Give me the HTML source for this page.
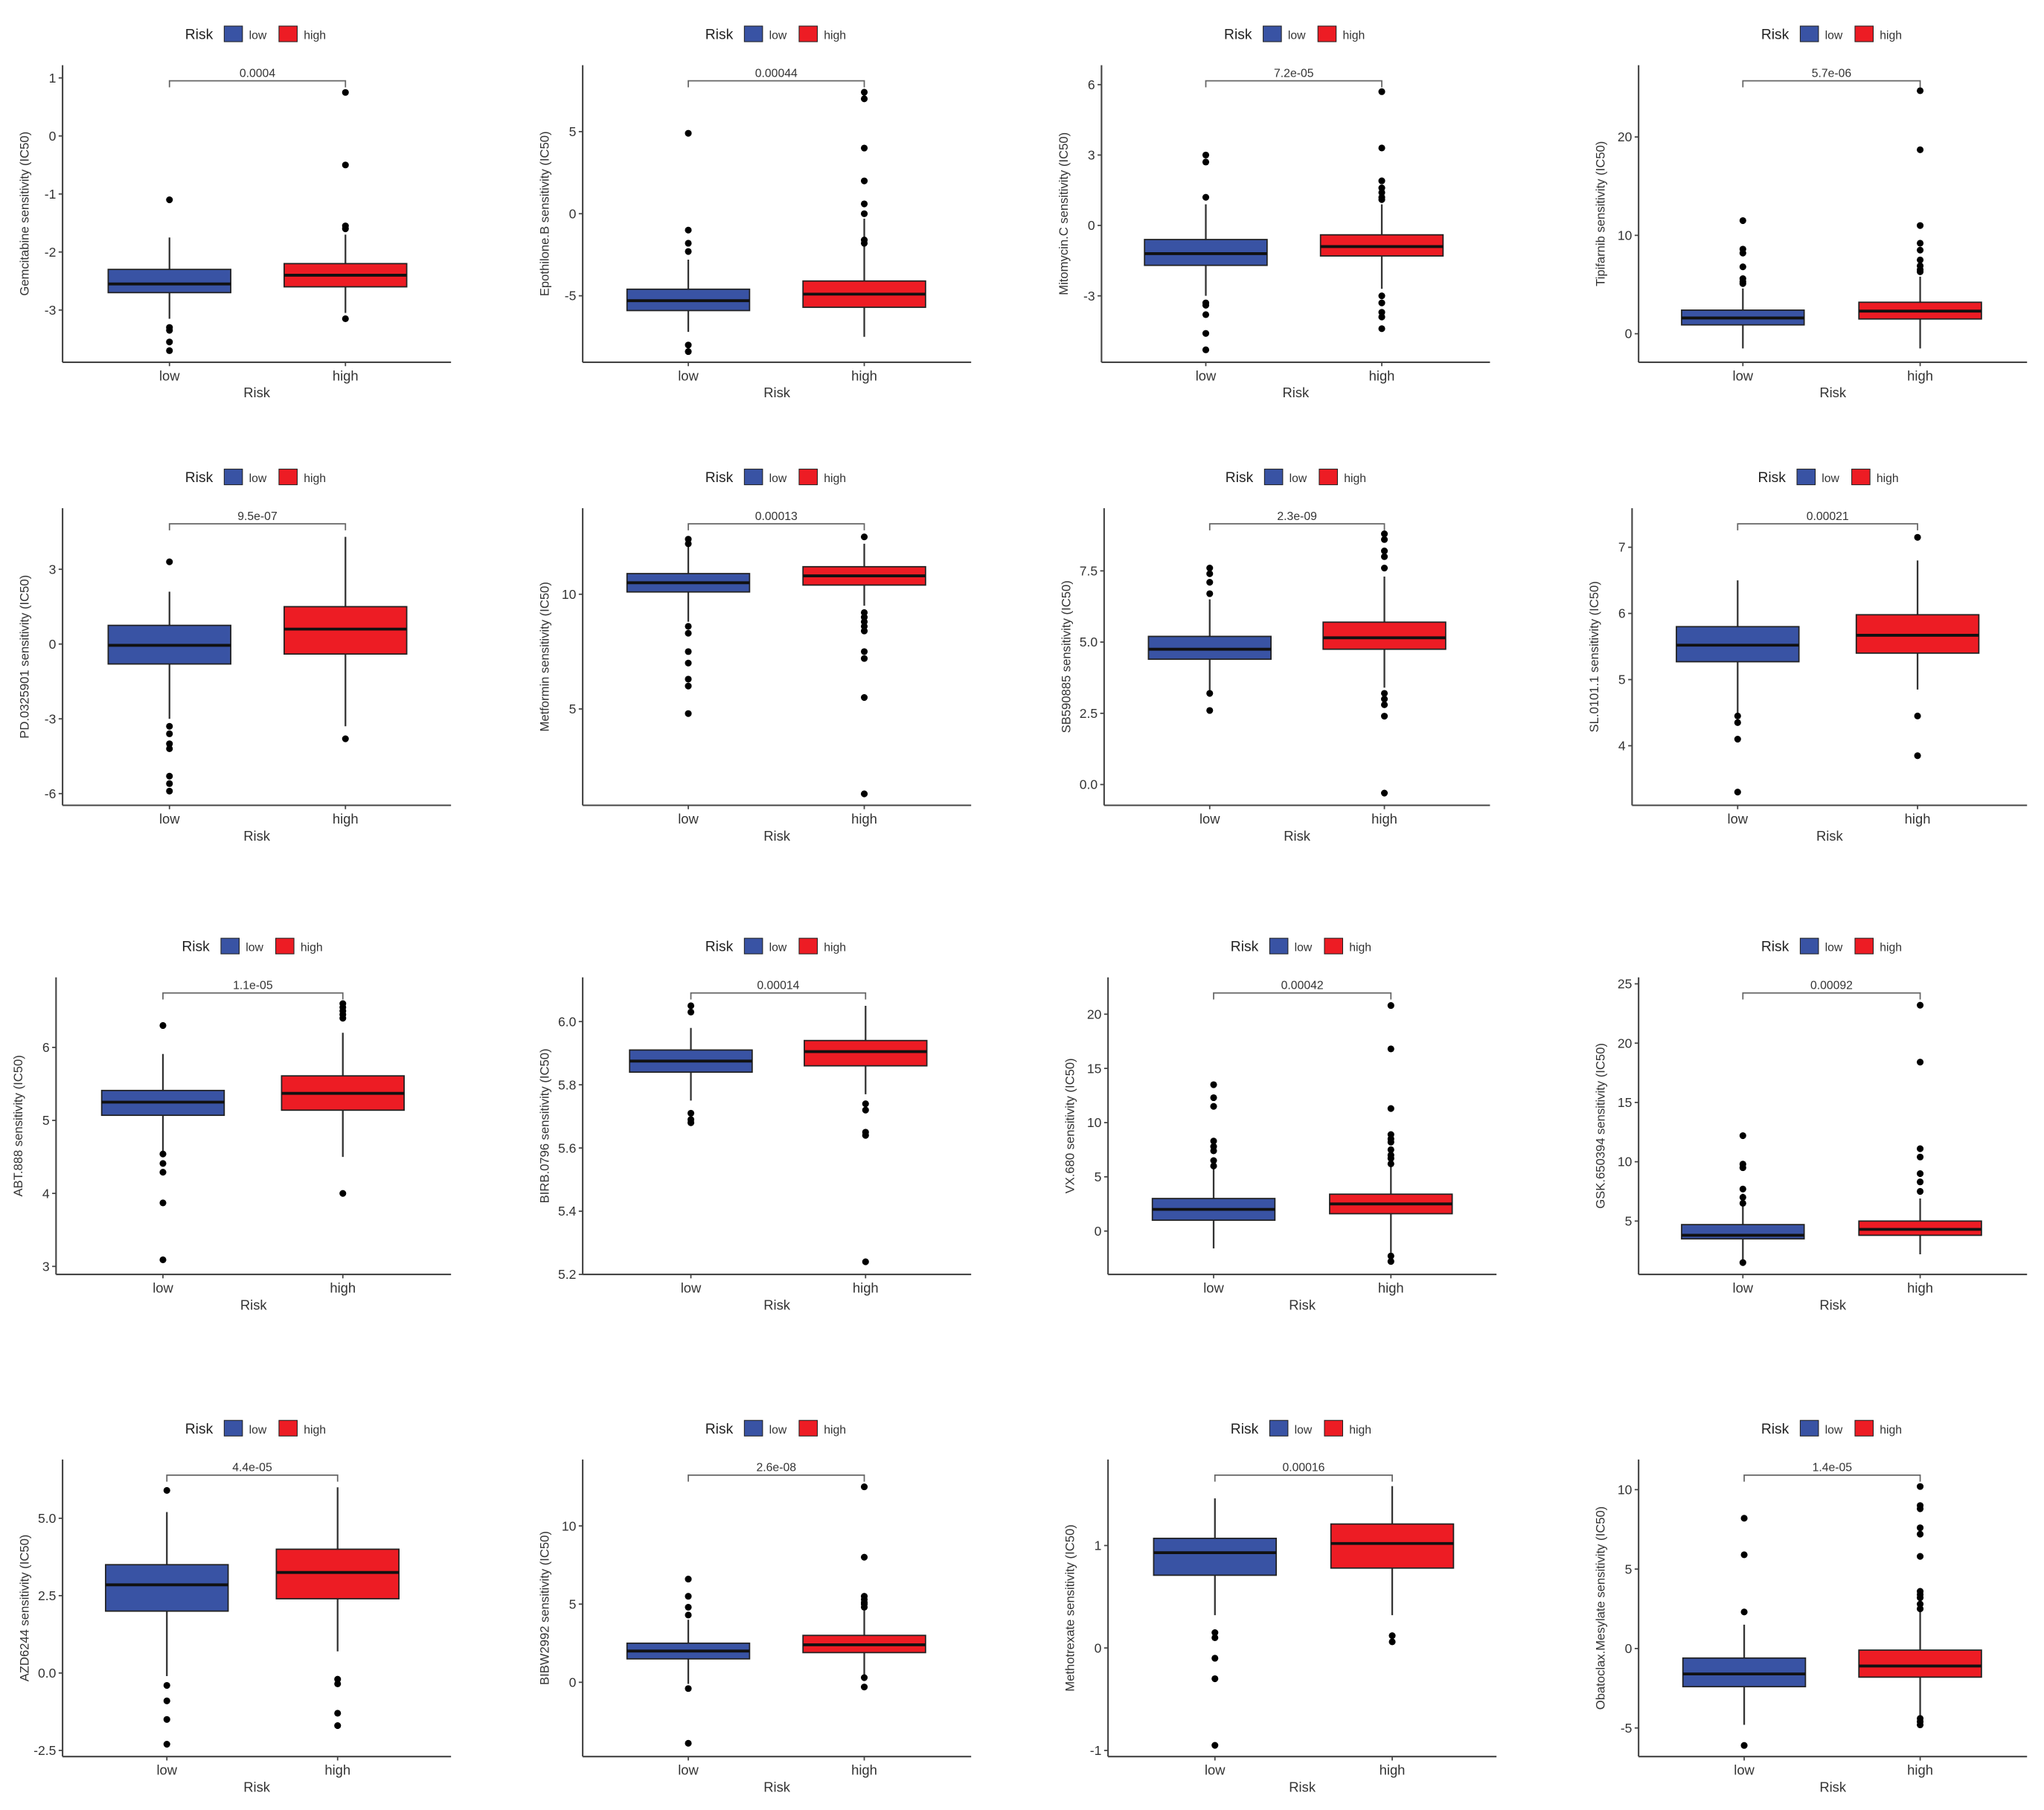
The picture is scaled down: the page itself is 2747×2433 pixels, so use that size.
<!DOCTYPE html>
<html><head><meta charset="utf-8">
<style>
html,body{margin:0;padding:0;background:#fff;}
svg{display:block;}
text{font-family:"Liberation Sans",Arial,sans-serif;}
</style></head>
<body>
<svg id="fig" width="2747" height="2433" viewBox="0 0 1568 1389" preserveAspectRatio="none" xmlns="http://www.w3.org/2000/svg"></svg>
<script>
// ---------- DATA ----------
const drugNames = ["Gemcitabine","Epothilone.B","Mitomycin.C","Tipifarnib","PD.0325901","Metformin","SB590885","SL.0101.1","ABT.888","BIRB.0796","VX.680","GSK.650394","AZD6244","BIBW2992","Methotrexate","Obatoclax.Mesylate"];
const pValues = ["0.0004","0.00044","7.2e-05","5.7e-06","9.5e-07","0.00013","2.3e-09","0.00021","1.1e-05","0.00014","0.00042","0.00092","4.4e-05","2.6e-08","0.00016","1.4e-05"];
const yDomains = [[-3.9,1.22],[-9.05,9.05],[-5.83,6.83],[-2.9,27.3],[-6.47,5.45],[0.8,13.75],[-0.73,9.7],[3.1,7.59],[2.89,6.96],[5.2,6.14],[-4,23.4],[0.5,25.55],[-2.7,6.9],[-4.75,14.25],[-1.06,1.84],[-6.8,11.9]];
const yTicks = [[1,0,-1,-2,-3],[5,0,-5],[6,3,0,-3],[20,10,0],[3,0,-3,-6],[10,5],[7.5,5,2.5,0],[7,6,5,4],[6,5,4,3],[6.0,5.8,5.6,5.4,5.2],[20,15,10,5,0],[25,20,15,10,5],[5,2.5,0,-2.5],[10,5,0],[1,0,-1],[10,5,0,-5]];
const tickLabels = [["1","0","-1","-2","-3"],["5","0","-5"],["6","3","0","-3"],["20","10","0"],["3","0","-3","-6"],["10","5"],["7.5","5.0","2.5","0.0"],["7","6","5","4"],["6","5","4","3"],["6.0","5.8","5.6","5.4","5.2"],["20","15","10","5","0"],["25","20","15","10","5"],["5.0","2.5","0.0","-2.5"],["10","5","0"],["1","0","-1"],["10","5","0","-5"]];
// box stats: [whiskerLow, q1, median, q3, whiskerHigh]
const lowStats = [[-3.15,-2.7,-2.55,-2.3,-1.75],[-7.2,-5.9,-5.3,-4.6,-2.8],[-3,-1.7,-1.2,-0.6,0.9],[-1.5,0.9,1.6,2.4,4.6],[-3,-0.8,-0.05,0.75,2.1],[8.8,10.1,10.5,10.9,12.2],[3.3,4.4,4.75,5.2,6.5],[4.5,5.27,5.52,5.8,6.5],[4.57,5.07,5.25,5.41,5.91],[5.75,5.84,5.875,5.91,5.98],[-1.6,1.0,2.0,3.0,6.0],[1.7,3.5,3.8,4.7,7.3],[-0.1,2.0,2.85,3.5,5.2],[-0.1,1.5,2.0,2.5,4.0],[0.32,0.71,0.93,1.07,1.46],[-4.8,-2.4,-1.6,-0.6,1.5]];
const highStats = [[-3.05,-2.6,-2.4,-2.2,-1.7],[-7.5,-5.7,-4.9,-4.1,-0.3],[-2.7,-1.3,-0.9,-0.4,0.9],[-1.5,1.5,2.3,3.2,5.8],[-3.3,-0.4,0.6,1.5,4.3],[9.5,10.4,10.8,11.2,12.2],[3.4,4.75,5.15,5.7,7.3],[4.85,5.4,5.67,5.98,6.8],[4.5,5.14,5.37,5.61,6.2],[5.77,5.86,5.905,5.94,6.05],[-2,1.6,2.5,3.4,6.0],[2.2,3.8,4.3,5.0,6.9],[0.7,2.4,3.25,4.0,6.0],[0.2,1.9,2.4,3.0,4.6],[0.32,0.78,1.02,1.21,1.58],[-4.3,-1.8,-1.1,-0.1,2.3]];
const lowOutliers = [[-1.1,-3.3,-3.35,-3.55,-3.7],[4.9,-1,-1.8,-2.3,-8,-8.4],[3,2.7,1.2,-3.3,-3.4,-3.8,-4.6,-5.3],[11.5,8.6,8.2,6.8,5.6,5.3,5.1],[3.3,-3.3,-3.6,-4,-4.2,-5.3,-5.6,-5.9],[12.4,12.2,8.6,8.3,7.5,7,6.3,6,4.8],[7.6,7.4,7.1,6.7,3.2,2.6],[4.45,4.35,4.1,3.3],[6.3,4.54,4.41,4.29,3.87,3.09],[6.03,6.05,5.71,5.69,5.68],[13.5,12.3,11.5,8.3,7.8,7.4,6.5,6.0],[12.2,9.8,9.5,7.7,7,6.5,1.5],[5.9,-0.4,-0.9,-1.5,-2.3],[6.6,5.5,4.8,4.3,-0.4,-3.9],[0.15,0.1,-0.1,-0.3,-0.95],[8.2,5.9,2.3,-6.1]];
const highOutliers = [[0.75,-0.5,-1.55,-1.6,-3.15],[7.4,7,4,2,0.6,0,-1.6,-1.8],[5.7,3.3,1.9,1.6,1.4,1.2,1.1,-3,-3.3,-3.7,-3.9,-4.4],[24.7,18.7,11,9.2,8.5,7.5,6.9,6.5,6.3],[-3.8],[12.5,9.2,9,8.8,8.6,8.4,7.5,7.2,5.5,1.3],[8.8,8.6,8.2,8.0,7.6,3.2,3.0,2.8,2.4,-0.3],[7.15,4.45,3.85],[6.6,6.55,6.5,6.45,6.4,4.0],[5.74,5.72,5.65,5.64,5.24],[20.8,16.8,11.3,8.9,8.5,8.2,7.5,7,6.7,6.2,-2.3,-2.8],[23.2,18.4,11.1,10.4,9,8.3,7.5],[-0.2,-0.35,-1.3,-1.7],[12.5,8,5.5,5.3,5.1,5,4.8,0.3,-0.3],[0.12,0.06],[10.2,9,8.8,7.6,7.2,5.8,3.6,3.4,3.2,2.8,2.5,-4.4,-4.6,-4.8]];
const groups = ["low","high"];

// ---------- LAYOUT (preview coordinate space) ----------
const rowTop = [50,390,750,1120];
const rowBottom = [278,618,978,1348];
const axisXs = [[48,447,845,1257],[48,447,847,1252],[43,447,850,1257],[48,447,850,1257]];
const axisEnds = [[346,745,1143,1555],[346,745,1143,1555],[346,745,1148,1555],[346,745,1148,1555]];
const lowXs = [[130,528,925,1337],[130,528,928,1333],[125,530,931,1337],[128,528,932,1338]];
const highXs = [[265,663,1060,1473],[265,663,1062,1471],[263,664,1067,1473],[259,663,1068,1473]];
const BLUE="#3953a4", RED="#ed1c24", HW=47;

const NS="http://www.w3.org/2000/svg";
const svg=document.getElementById('fig');
function mk(tag,attrs,parent){const e=document.createElementNS(NS,tag);for(const k in attrs)e.setAttribute(k,attrs[k]);(parent||svg).appendChild(e);return e;}
function txt(s,attrs,parent){const e=mk('text',attrs,parent);e.textContent=s;return e;}

for(let i=0;i<16;i++){
  const r=Math.floor(i/4), c=i%4;
  const top=rowTop[r], bot=rowBottom[r], ax=axisXs[r][c], ae=axisEnds[r][c];
  const xl=lowXs[r][c], xh=highXs[r][c];
  const [d0,d1]=yDomains[i];
  const y=v=>bot-(v-d0)/(d1-d0)*(bot-top);
  const g=mk('g',{});
  
  
  // legend
  const lc=(ax+ae)/2;
  const lg=mk('g',{},g);
  
  
  txt('Risk',{x:lc-55,y:top-20,'font-size':11,fill:'#222'},lg);
  const k1=mk('rect',{x:lc-25,y:top-30,width:14,height:12,fill:BLUE,stroke:'#222','stroke-width':0.6},lg);
  
  
  txt('low',{x:lc-6,y:top-20,'font-size':9,fill:'#333'},lg);
  const k2=mk('rect',{x:lc+17,y:top-30,width:14,height:12,fill:RED,stroke:'#222','stroke-width':0.6},lg);
  
  
  txt('high',{x:lc+36,y:top-20,'font-size':9,fill:'#333'},lg);
  // axes
  const ya=mk('line',{x1:ax,y1:top,x2:ax,y2:bot,stroke:'#444','stroke-width':1.2},g);
  
  
  const xa=mk('line',{x1:ax,y1:bot,x2:ae,y2:bot,stroke:'#444','stroke-width':1.2},g);
  
  
  yTicks[i].forEach((t,j)=>{
    const yy=y(t);
    mk('line',{x1:ax-3,y1:yy,x2:ax,y2:yy,stroke:'#444','stroke-width':1},g);
    const tl=txt(tickLabels[i][j],{x:ax-5,y:yy+3.5,'font-size':10,'text-anchor':'end',fill:'#333'},g);
    
    
  });
  [xl,xh].forEach((xx,j)=>{
    mk('line',{x1:xx,y1:bot,x2:xx,y2:bot+3,stroke:'#444','stroke-width':1},g);
    const tl=txt(groups[j],{x:xx,y:bot+14,'font-size':10.5,'text-anchor':'middle',fill:'#333'},g);
    
    
  });
  const xt=txt('Risk',{x:(ax+ae)/2,y:bot+27,'font-size':10.5,'text-anchor':'middle',fill:'#333'},g);
  
  
  const ym=(top+bot)/2;
  const yt=txt(drugNames[i]+' sensitivity (IC50)',{x:ax-26,y:ym,'font-size':9.5,'text-anchor':'middle',fill:'#333',transform:`rotate(-90 ${ax-26} ${ym})`},g);
  
  
  // bracket
  const by=top+12;
  const br=mk('path',{d:`M${xl},${by+5} V${by} H${xh} V${by+5}`,fill:'none',stroke:'#666','stroke-width':1},g);
  
  
  const pv=txt(pValues[i],{x:(xl+xh)/2,y:by-3,'font-size':9,'text-anchor':'middle',fill:'#333'},g);
  
  
  // boxes
  [[xl,lowStats[i],lowOutliers[i],BLUE,'low'],[xh,highStats[i],highOutliers[i],RED,'high']].forEach(([cx,s,outs,col,nm])=>{
    const bg=mk('g',{},g);
    
    
    mk('line',{x1:cx,y1:y(s[0]),x2:cx,y2:y(s[4]),stroke:'#333','stroke-width':1.3},bg);
    mk('rect',{x:cx-HW,y:y(s[3]),width:2*HW,height:Math.max(1,y(s[1])-y(s[3])),fill:col,stroke:'#222','stroke-width':1},bg);
    mk('line',{x1:cx-HW,y1:y(s[2]),x2:cx+HW,y2:y(s[2]),stroke:'#111','stroke-width':2.2},bg);
    outs.forEach(v=>{
      const o=mk('circle',{cx:cx,cy:y(v),r:2.6,fill:'#000'},bg);
      
      
    });
  });
}
</script>
</body></html>
